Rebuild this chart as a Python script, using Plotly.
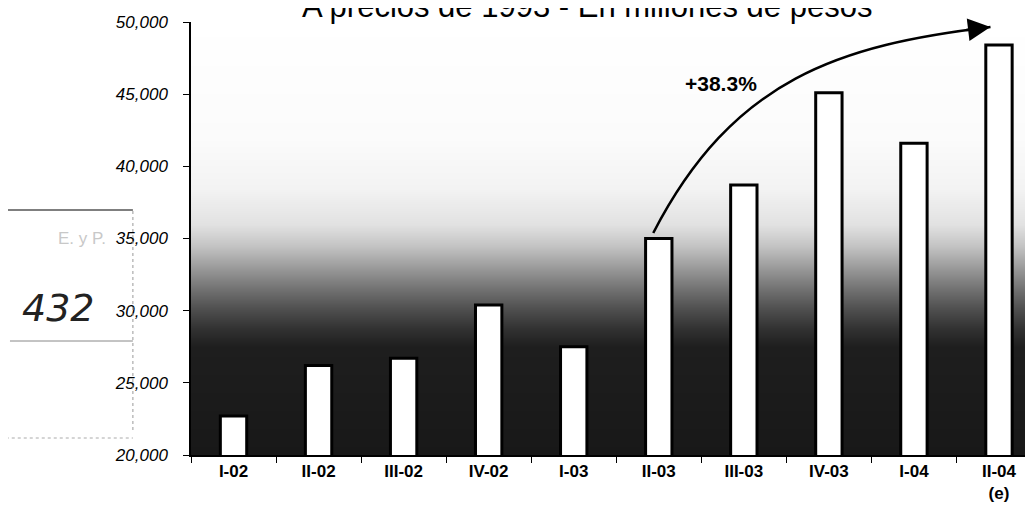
import plotly.graph_objects as go

# ---- data -------------------------------------------------------------
CATEGORIES = ["I-02", "II-02", "III-02", "IV-02", "I-03",
              "II-03", "III-03", "IV-03", "I-04", "II-04"]
TICK_LABELS = ["I-02", "II-02", "III-02", "IV-02", "I-03",
               "II-03", "III-03", "IV-03", "I-04", "II-04<br>(e)"]
VALUES = [22700, 26200, 26700, 30400, 27500, 35000, 38700, 45100, 41600, 48400]
Y_TICKS = [20000, 25000, 30000, 35000, 40000, 45000, 50000]
Y_TICK_LABELS = ["20,000", "25,000", "30,000", "35,000", "40,000", "45,000", "50,000"]
TITLE = "A precios de 1993 - En millones de pesos"
GROWTH_LABEL = "+38.3%"

# background shading (dark at the bottom, white at the top)
BG_LEVELS = [20000, 27500, 28800, 30200, 31600, 33000, 34500, 36000, 38500, 42000, 50000]
BG_GRAY = [24, 30, 50, 80, 115, 155, 195, 226, 243, 251, 255]

# arrow geometry (data units: category index, value)
ARROW_START = (4.935, 35380)
ARROW_C1 = (5.876, 46120)
ARROW_C2 = (7.135, 48400)
ARROW_END = (8.90, 49650)
ARROW_TAIL = (8.60, 49440)
LABEL_POS = (5.735, 45770)

FONT = "Liberation Sans, Arial, sans-serif"

fig = go.Figure()

fig.add_trace(go.Heatmap(
    x=CATEGORIES,
    y=BG_LEVELS,
    z=[[g] * len(CATEGORIES) for g in BG_GRAY],
    colorscale=[[0, "black"], [1, "white"]],
    zmin=0, zmax=255,
    zsmooth="best",
    showscale=False,
    hoverinfo="skip",
))

fig.add_trace(go.Bar(
    x=CATEGORIES,
    y=VALUES,
    width=0.31,
    marker=dict(color="white", line=dict(color="black", width=3)),
    hovertemplate="%{x}: %{y:,}<extra></extra>",
))

path = "M {},{} C {},{} {},{} {},{}".format(
    ARROW_START[0], ARROW_START[1], ARROW_C1[0], ARROW_C1[1],
    ARROW_C2[0], ARROW_C2[1], ARROW_END[0], ARROW_END[1])
fig.add_shape(type="path", path=path, xref="x", yref="y",
              line=dict(color="black", width=2.5), layer="above")

annotations = [
    dict(x=ARROW_END[0], y=ARROW_END[1], ax=ARROW_TAIL[0], ay=ARROW_TAIL[1],
         xref="x", yref="y", axref="x", ayref="y", text="",
         showarrow=True, arrowhead=2, arrowsize=1.8, arrowwidth=2.5,
         arrowcolor="black"),
    dict(x=LABEL_POS[0], y=LABEL_POS[1], xref="x", yref="y", text="<b>" + GROWTH_LABEL + "</b>",
         showarrow=False, font=dict(family=FONT, size=21, color="black")),
    dict(x=0.47, y=1.035, xref="paper", yref="paper", text=TITLE,
         showarrow=False, xanchor="center", yanchor="middle",
         font=dict(family=FONT, size=31, color="black")),
    # scanned margin notes
    dict(x=-0.157, y=0.34, xref="paper", yref="paper", text="432",
         showarrow=False, xanchor="center", yanchor="middle",
         font=dict(family="DejaVu Sans", size=38, color="#222", style="italic")),
    dict(x=-0.13, y=0.50, xref="paper", yref="paper", text="E. y P.",
         showarrow=False, xanchor="center", yanchor="middle",
         font=dict(family=FONT, size=17, color="#c8c8c8")),
]

shapes_extra = [
    dict(type="line", xref="paper", yref="paper", x0=-0.227, x1=-0.069,
         y0=(455 - 210) / 433, y1=(455 - 210) / 433, line=dict(color="#555", width=1.5)),
    dict(type="line", xref="paper", yref="paper", x0=-0.215, x1=-0.069,
         y0=(455 - 341) / 433, y1=(455 - 341) / 433, line=dict(color="#888", width=1)),
    dict(type="line", xref="paper", yref="paper", x0=-0.069, x1=-0.069,
         y0=(455 - 430) / 433, y1=(455 - 208) / 433, line=dict(color="#999", width=1, dash="dot")),
    dict(type="line", xref="paper", yref="paper", x0=-0.22, x1=-0.069,
         y0=(455 - 438) / 433, y1=(455 - 438) / 433, line=dict(color="#aaa", width=1, dash="dot")),
]
for s in shapes_extra:
    fig.add_shape(**s)

# the page body adds an 8px offset, so the figure is drawn 8px smaller
fig.update_layout(
    width=1025, height=510,
    margin=dict(l=183, r=0, t=14, b=63),
    paper_bgcolor="white", plot_bgcolor="white",
    showlegend=False,
    annotations=annotations,
    font=dict(family=FONT, color="black"),
)

fig.update_xaxes(
    type="category",
    range=[-0.5, 9.4],
    tickmode="array", tickvals=CATEGORIES, ticktext=TICK_LABELS,
    tickson="boundaries", ticks="outside", ticklen=6, tickcolor="black",
    showline=True, linecolor="black", linewidth=1.5,
    showgrid=False, zeroline=False,
    tickfont=dict(family=FONT, size=17, color="black", weight="bold"),
)
fig.update_yaxes(
    range=[20000, 50000],
    tickmode="array", tickvals=Y_TICKS, ticktext=Y_TICK_LABELS,
    ticks="outside", ticklen=6, tickcolor="black",
    showline=True, linecolor="black", linewidth=1.5,
    showgrid=False, zeroline=False,
    ticklabelstandoff=12,
    tickfont=dict(family=FONT, size=17, color="black", style="italic"),
)

fig.write_html("out.html")
